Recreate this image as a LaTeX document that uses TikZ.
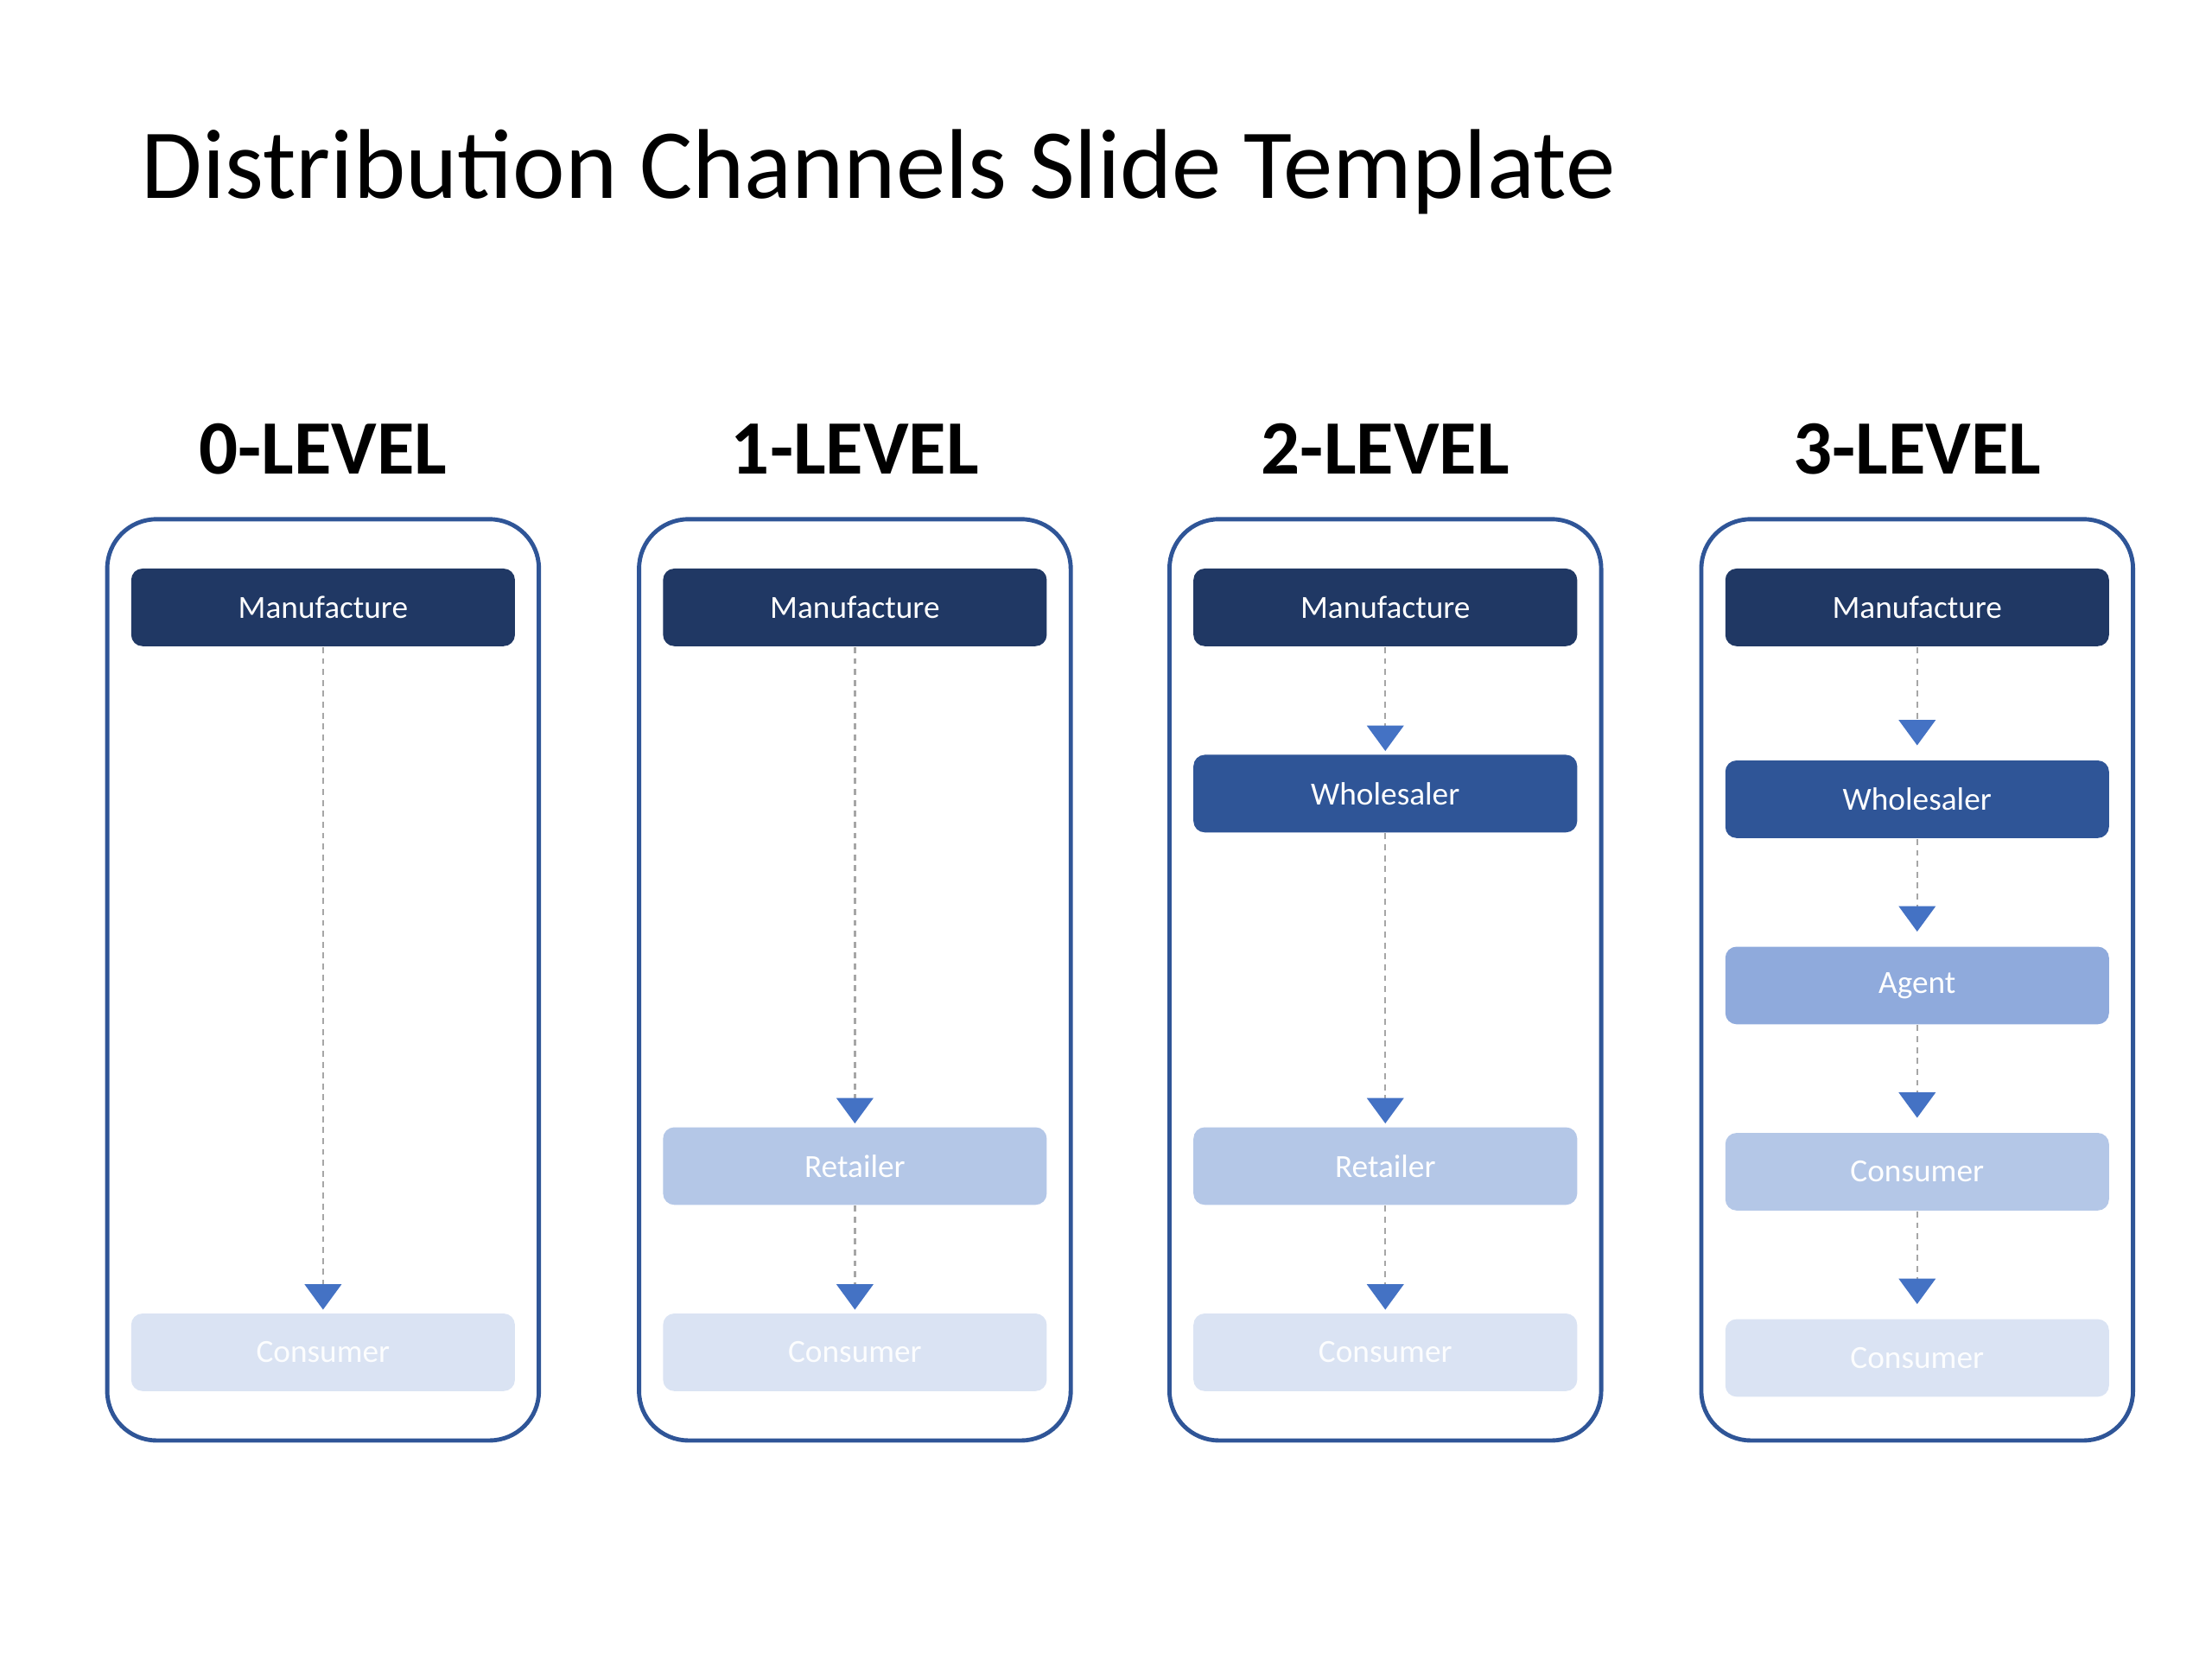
\documentclass[tikz,border=0pt]{standalone}
\usepackage{fontspec}
\setmainfont{Carlito}
\usetikzlibrary{arrows.meta}
\definecolor{navy}{HTML}{203864}
\definecolor{whole}{HTML}{2F5597}
\definecolor{agent}{HTML}{8FAADC}
\definecolor{retail}{HTML}{B4C7E7}
\definecolor{cons}{HTML}{DAE3F3}
\definecolor{tipblue}{HTML}{4472C4}
\begin{document}
\begin{tikzpicture}[x=0.1mm,y=-0.1mm,
  outer/.style={draw=whole,line width=0.85pt,rounded corners=3.5mm},
  box/.style={minimum width=27.2mm,minimum height=5.5mm,rounded corners=0.8mm,inner sep=0pt,font=\fontsize{6.5}{8}\selectfont,text=white},
  head/.style={font=\fontsize{15.5}{18}\bfseries\selectfont},
  flow/.style={draw=gray!70,line width=0.4pt,dash pattern=on 1.2pt off 1pt,-{Triangle[width=2.6mm,length=1.8mm,color=tipblue,fill=tipblue]},shorten >=0.2mm}]
\useasboundingbox (0,0) rectangle (1568,1176);
\node[anchor=west,font=\fontsize{20}{24}\selectfont] (title) at (88,122) {Distribution Channels Slide Template};
\foreach \i/\x/\lab in {0/229/0-LEVEL,1/606/1-LEVEL,2/982/2-LEVEL,3/1359/3-LEVEL}{
  \node[head] (h\i) at (\x,318) {\lab};
  \draw[outer] (\x-153,368) rectangle (\x+153,1021);
  \node[box,fill=navy] (m\i) at (\x,430.5) {Manufacture};
}
% column 0
\node[box,fill=cons,text=white!92!cons] (c0) at (229,958.5) {Consumer};
\draw[flow] (m0) -- (c0);
% column 1
\node[box,fill=retail] (r1) at (606,826.5) {Retailer};
\node[box,fill=cons,text=white!92!cons] (c1) at (606,958.5) {Consumer};
\draw[flow] (m1) -- (r1);
\draw[flow] (r1) -- (c1);
% column 2
\node[box,fill=whole] (w2) at (982,562.5) {Wholesaler};
\node[box,fill=retail] (r2) at (982,826.5) {Retailer};
\node[box,fill=cons,text=white!92!cons] (c2) at (982,958.5) {Consumer};
\draw[flow] (m2) -- (w2);
\draw[flow] (w2) -- (r2);
\draw[flow] (r2) -- (c2);
% column 3
\node[box,fill=whole] (w3) at (1359,566.5) {Wholesaler};
\node[box,fill=agent] (a3) at (1359,698.5) {Agent};
\node[box,fill=retail] (k3) at (1359,830.5) {Consumer};
\node[box,fill=cons,text=white!92!cons] (c3) at (1359,962.5) {Consumer};
\draw[flow,shorten >=1mm] (m3) -- (w3);
\draw[flow,shorten >=1mm] (w3) -- (a3);
\draw[flow,shorten >=1mm] (a3) -- (k3);
\draw[flow,shorten >=1mm] (k3) -- (c3);
\end{tikzpicture}
\end{document}
